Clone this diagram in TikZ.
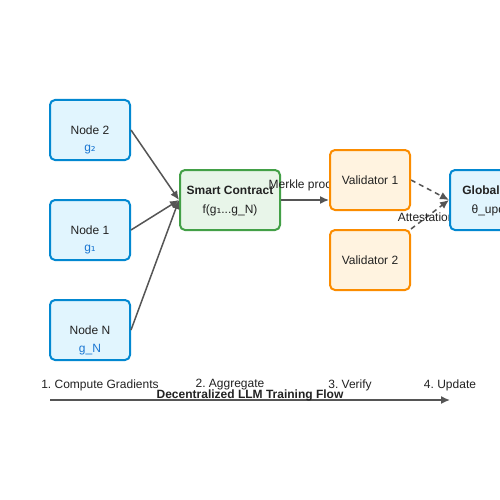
\documentclass[tikz,border=0pt]{standalone}
\usepackage{fontspec}
\setmainfont{Liberation Sans}
\newfontfamily\dvs{DejaVu Sans}
\usetikzlibrary{arrows.meta}
\frenchspacing
\pgfdeclarelayer{bg}
\pgfdeclarelayer{low}
\pgfdeclarelayer{mid}
\pgfsetlayers{bg,low,mid,main}
\definecolor{bblue}{HTML}{0288D1}
\definecolor{bbluefill}{HTML}{E1F5FE}
\definecolor{ggreen}{HTML}{43A047}
\definecolor{ggreenfill}{HTML}{E8F5E9}
\definecolor{oorange}{HTML}{FB8C00}
\definecolor{oorangefill}{HTML}{FFF3E0}
\definecolor{arrgray}{HTML}{555555}
\definecolor{gtextblue}{HTML}{1976D2}
\definecolor{txt}{HTML}{222222}
\begin{document}
\begin{tikzpicture}[x=1pt,y=-1pt,
  every node/.style={font=\fontsize{12}{14}\selectfont, text=txt, inner sep=0pt},
  box/.style={rounded corners=5pt, line width=2pt, minimum height=60pt},
  bluebox/.style={box, draw=bblue, fill=bbluefill, minimum width=80pt},
  greenbox/.style={box, draw=ggreen, fill=ggreenfill, minimum width=100pt},
  orangebox/.style={box, draw=oorange, fill=oorangefill, minimum width=80pt},
  gtext/.style={text=gtextblue},
  boldtext/.style={font=\fontsize{12}{14}\selectfont\bfseries},
  arr/.style={draw=arrgray, line width=1.5pt, -{Latex[length=9pt,width=8pt]}},
  darr/.style={arr, dash pattern=on 5pt off 4pt},
  elabel/.style={fill=none}
]
\clip (0,0) rectangle (500,500);
\begin{pgfonlayer}{bg}
\fill[white] (0,0) rectangle (500,500);
\end{pgfonlayer}

% worker nodes and smart contract (lower layer)
\begin{pgfonlayer}{low}
\node[bluebox] (n2) at (90,130) {};
\node (n2t) at (90,130) {Node 2};
\node[gtext] (n2g) at (90,150) {g{\dvs ₂}};
\node[bluebox] (n1) at (90,230) {};
\node (n1t) at (90,230) {Node 1};
\node[gtext] (n1g) at (90,250) {g{\dvs ₁}};
\node[bluebox] (nn) at (90,330) {};
\node (nnt) at (90,330) {Node N};
\node[gtext] (nng) at (90,350) {g\_N};
\node[greenbox] (sc) at (230,200) {};
\node[boldtext] (sct) at (230,190) {Smart Contract};
\node (scf) at (230,210) {f(g{\dvs ₁}...g\_N)};
\end{pgfonlayer}

% validators and global model (top layer)
\node[orangebox] (v1) at (370,180) {};
\node (v1t) at (370,180) {Validator 1};
\node[orangebox] (v2) at (370,260) {};
\node (v2t) at (370,260) {Validator 2};
\node[bluebox, minimum width=100pt] (gm) at (500,200) {};
\node[boldtext] (gmt) at (500,190) {Global Model};
\node (gmf) at (500,210) {θ\_updated};

% connectors between the two
\begin{pgfonlayer}{mid}
\draw[arr] (n2.east) -- (sc.west);
\draw[arr] (n1.east) -- (sc.west);
\draw[arr] (nn.east) -- (sc.west);
\draw[arr] (sc.east) -- node[elabel, above=8pt, xshift=-3pt] (mk) {Merkle proof} (sc.east -| v1.west);
\draw[darr] (v1.east) -- (gm.west);
\draw[darr] (v2.north east) -- node[elabel, pos=0.4] (at) {Attestation} (gm.west);
\end{pgfonlayer}

% bottom flow
\node (s1) at (100,385) {1. Compute Gradients};
\node (s2) at (230,385) {2. Aggregate};
\node (s3) at (350,385) {3. Verify};
\node (s4) at (450,385) {4. Update};
\coordinate (fs) at (50,400);
\coordinate (fe) at (450,400);
\draw[arr] (fs) -- (fe);
\node[boldtext] (ft) at (250,395) {Decentralized LLM Training Flow};
\end{tikzpicture}
\end{document}
